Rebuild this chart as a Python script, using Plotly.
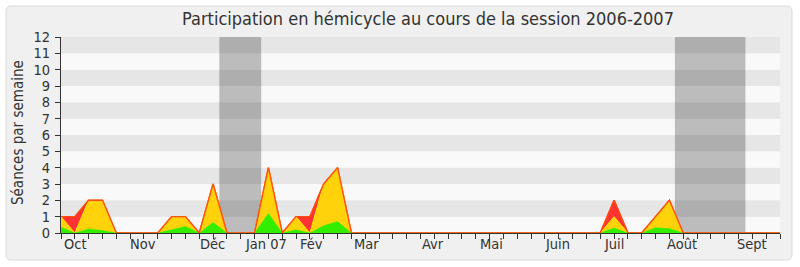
import plotly.graph_objects as go

# ---- data -------------------------------------------------------------
weeks = list(range(53))
# total sessions (red), presence (yellow), interventions (green)
red = [1, 1, 2, 2, 0, 0, 0, 0, 1, 1, 0, 3, 0, 0, 0, 4, 0, 1, 1, 3, 4, 0,
       0, 0, 0, 0, 0, 0, 0, 0, 0, 0, 0, 0, 0, 0, 0, 0, 0, 0, 2, 0, 0, 1, 2, 0,
       0, 0, 0, 0, 0, 0, 0]
yellow = [1, 0, 2, 2, 0, 0, 0, 0, 1, 1, 0, 3, 0, 0, 0, 4, 0, 1, 0, 3, 4, 0,
          0, 0, 0, 0, 0, 0, 0, 0, 0, 0, 0, 0, 0, 0, 0, 0, 0, 0, 1, 0, 0, 1, 2, 0,
          0, 0, 0, 0, 0, 0, 0]
green = [0.35, 0, 0.25, 0.15, 0, 0, 0, 0, 0.2, 0.4, 0, 0.65, 0, 0, 0, 1.2, 0, 0.2, 0, 0.45, 0.7, 0,
         0, 0, 0, 0, 0, 0, 0, 0, 0, 0, 0, 0, 0, 0, 0, 0, 0, 0, 0.3, 0, 0, 0.32, 0.27, 0,
         0, 0, 0, 0, 0, 0, 0]

month_pos = [1.08, 5.9, 10.98, 14.85, 18.1, 22.1, 26.9, 31.1, 35.9, 40.0, 44.9, 49.95]
month_labels = ["Oct", "Nov", "Déc", "Jan 07", "Fév", "Mar", "Avr", "Mai", "Juin", "Juil", "Août", "Sept"]

vacations = [(11.45, 14.48), (44.4, 49.5)]

title = "Participation en hémicycle au cours de la session 2006-2007"
ytitle = "Séances par semaine"

FONT = "DejaVu Sans Condensed, DejaVu Sans"
TXT = "#333333"

# ---- geometry helpers (pixel -> paper) ---------------------------------
W, H = 800, 267
L, R, T, B = 61, 20, 37, 34
PW, PH = W - L - R, H - T - B


def px(x):
    return (x - L) / PW


def py(y):
    return (H - B - y) / PH


fig = go.Figure()

fig.add_trace(go.Scatter(x=weeks, y=red, mode="lines", fill="tozeroy",
                         fillcolor="#ff3333", line=dict(color="#ff2a1a", width=1.5),
                         hoverinfo="skip", showlegend=False))
fig.add_trace(go.Scatter(x=weeks, y=yellow, mode="lines", fill="tozeroy",
                         fillcolor="#ffd20c", line=dict(color="#ffe40a", width=1),
                         hoverinfo="skip", showlegend=False))
fig.add_trace(go.Scatter(x=weeks, y=green, mode="lines", fill="tozeroy",
                         fillcolor="#33ee00", line=dict(color="#33ee00", width=0.5),
                         hoverinfo="skip", showlegend=False))
# orange outline on top of the total
fig.add_trace(go.Scatter(x=weeks, y=red, mode="lines",
                         line=dict(color="#ff5010", width=1.3),
                         hoverinfo="skip", showlegend=False))

shapes = []
# outer rounded frame
x0, x1, y0, y1 = px(6), px(792), py(260), py(6)
rx, ry = 5 / PW, 5 / PH
path = (f"M {x0+rx},{y1} L {x1-rx},{y1} Q {x1},{y1} {x1},{y1-ry} "
        f"L {x1},{y0+ry} Q {x1},{y0} {x1-rx},{y0} L {x0+rx},{y0} "
        f"Q {x0},{y0} {x0},{y0+ry} L {x0},{y1-ry} Q {x0},{y1} {x0+rx},{y1} Z")
shapes.append(dict(type="path", path=path, xref="paper", yref="paper",
                   fillcolor="#f0f0f0", line=dict(color="#dadada", width=1), layer="below"))
# horizontal bands
for k in range(12):
    shapes.append(dict(type="rect", xref="paper", yref="y", x0=0, x1=1, y0=k, y1=k + 1,
                       fillcolor="#e6e6e6" if k % 2 == 1 else "#f9f9f9",
                       line=dict(width=0), layer="below"))
# vacation shading
for a, b in vacations:
    shapes.append(dict(type="rect", xref="x", yref="y", x0=a, x1=b, y0=0, y1=12,
                       fillcolor="rgba(0,0,0,0.245)", line=dict(width=0), layer="below"))

fig.update_layout(
    width=W, height=H,
    margin=dict(l=L, r=R, t=T, b=B, pad=0),
    paper_bgcolor="white",
    plot_bgcolor="rgba(0,0,0,0)",
    font=dict(family=FONT, size=14, color=TXT),
    shapes=shapes,
    title=dict(text=title, x=428 / W, xref="container", xanchor="center",
               y=1 - 19 / H, yref="container", yanchor="middle",
               font=dict(family=FONT, size=18, color=TXT)),
    xaxis=dict(range=[0, 52], tickvals=weeks, ticktext=[""] * len(weeks),
               ticks="outside", ticklen=5, tickcolor="#333333",
               showline=True, linecolor="#333333", linewidth=1,
               showgrid=False, zeroline=False, fixedrange=True),
    xaxis2=dict(range=[0, 52], overlaying="x", side="top", anchor="y",
                tickvals=weeks, showticklabels=False, ticks="outside", ticklen=2,
                tickcolor="#444444", showline=False, showgrid=False, zeroline=False),
    yaxis=dict(range=[0, 12], tickvals=list(range(13)), ticks="outside", ticklen=5,
               tickcolor="#333333", showline=True, linecolor="#333333", linewidth=1,
               showgrid=False, zeroline=False, ticklabelstandoff=2,
               tickfont=dict(family=FONT, size=14.5, color=TXT)),
    annotations=[
        dict(text=ytitle, x=px(18), y=py(133), xref="paper", yref="paper",
             textangle=-90, showarrow=False, xanchor="center", yanchor="middle",
             font=dict(family=FONT, size=15, color=TXT)),
    ] + [
        dict(text=lab, x=p, y=py(244), xref="x", yref="paper", showarrow=False,
             xanchor="center", yanchor="middle",
             font=dict(family=FONT, size=14.5, color=TXT))
        for p, lab in zip(month_pos, month_labels)
    ],
)

fig.write_html("out.html")
